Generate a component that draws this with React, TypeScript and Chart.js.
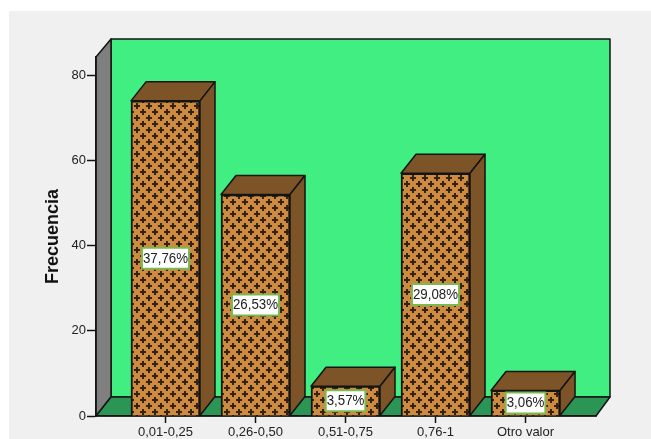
import React, { useEffect, useRef } from "react";
import { Chart, registerables } from "chart.js";

Chart.register(...registerables);

const categories = ["0,01-0,25", "0,26-0,50", "0,51-0,75", "0,76-1", "Otro valor"];
const frequencies = [74, 52, 7, 57, 6];
const percentLabels = ["37,76%", "26,53%", "3,57%", "29,08%", "3,06%"];
const yTicks = [0, 20, 40, 60, 80];

const FONT = '"Liberation Sans", Arial, sans-serif';
const DEPTH_X = 15;
const DEPTH_Y = 19;
const INK = "#141414";

// Two staggered dark crosses on the orange front-face tile.
function crossPattern(ctx: CanvasRenderingContext2D) {
  const tile = document.createElement("canvas");
  tile.width = 12;
  tile.height = 12;
  const t = tile.getContext("2d")!;
  t.fillStyle = "#CE8A3E";
  t.fillRect(0, 0, 12, 12);
  t.fillStyle = "#33220F";
  for (const [cx, cy] of [[5, 10], [11, 4]]) {
    for (const dx of [-12, 0, 12]) {
      for (const dy of [-12, 0, 12]) {
        t.fillRect(cx + dx - 3, cy + dy - 1, 6, 2);
        t.fillRect(cx + dx - 1, cy + dy - 3, 2, 6);
      }
    }
  }
  return ctx.createPattern(tile, "repeat")!;
}

function poly(ctx: CanvasRenderingContext2D, pts: number[][], fill: string, lw = 1.5) {
  ctx.beginPath();
  pts.forEach(([x, y], i) => (i ? ctx.lineTo(x, y) : ctx.moveTo(x, y)));
  ctx.closePath();
  ctx.fillStyle = fill;
  ctx.fill();
  ctx.lineWidth = lw;
  ctx.strokeStyle = INK;
  ctx.lineJoin = "round";
  ctx.stroke();
}

// Page panel plus the back wall, side wall and floor of the 3D box.
const boxPlugin = {
  id: "box3d",
  beforeDraw(chart: any) {
    const { ctx, chartArea: a, width, height } = chart;
    ctx.save();
    ctx.fillStyle = "#FFFFFF";
    ctx.fillRect(0, 0, width, height);
    ctx.fillStyle = "#F0F0F0";
    ctx.fillRect(9, 11, width - 9, height - 11);
    const l = a.left, r = a.right, t = a.top, b = a.bottom;
    poly(ctx, [[l + DEPTH_X, t - 18], [r + DEPTH_X - 1, t - 18], [r + DEPTH_X - 1, b - DEPTH_Y], [l + DEPTH_X, b - DEPTH_Y]], "#40EE82");
    poly(ctx, [[l, t], [l + DEPTH_X, t - 18], [l + DEPTH_X, b - DEPTH_Y], [l, b]], "#7F7F7F");
    poly(ctx, [[l, b], [l + DEPTH_X, b - DEPTH_Y], [r + DEPTH_X - 1, b - DEPTH_Y], [r, b]], "#2B9556");
    ctx.restore();
  },
};

// Top and side faces of each bar, then its percentage tag.
const barFacesPlugin = {
  id: "barFaces",
  afterDatasetsDraw(chart: any) {
    const { ctx } = chart;
    const bars = chart.getDatasetMeta(0).data;
    ctx.save();
    bars.forEach((bar: any, i: number) => {
      const half = bar.width / 2;
      const x0 = bar.x - half, x1 = bar.x + half, top = bar.y, base = bar.base;
      poly(ctx, [[x0, top], [x0 + DEPTH_X, top - DEPTH_Y], [x1 + DEPTH_X, top - DEPTH_Y], [x1, top]], "#7C5428");
      poly(ctx, [[x1, top], [x1 + DEPTH_X, top - DEPTH_Y], [x1 + DEPTH_X, base - DEPTH_Y], [x1, base]], "#7C5428");

      const midY = (top + base) / 2;
      ctx.font = `14px ${FONT}`;
      const textW = ctx.measureText(percentLabels[i]).width;
      const w = textW * 0.95 + 2;
      ctx.fillStyle = "#FFFFFF";
      ctx.strokeStyle = "#7DB84F";
      ctx.lineWidth = 2;
      ctx.fillRect(bar.x - w / 2, midY - 10.5, w, 21);
      ctx.strokeRect(bar.x - w / 2, midY - 10.5, w, 21);
      ctx.fillStyle = "#222222";
      ctx.textAlign = "center";
      ctx.textBaseline = "middle";
      // Slightly condensed so the taller glyphs still fit the tag.
      ctx.fillText(percentLabels[i], bar.x, midY + 0.5, textW * 0.95);
    });
    ctx.restore();
  },
};

export default function App() {
  const ref = useRef<HTMLCanvasElement>(null);

  useEffect(() => {
    const ctx = ref.current!.getContext("2d")!;
    const chart = new Chart(ctx, {
      type: "bar",
      data: {
        datasets: [
          {
            data: frequencies.map((y, x) => ({ x, y })),
            backgroundColor: crossPattern(ctx),
            borderColor: INK,
            borderWidth: 2,
            barThickness: 69,
          },
        ],
      },
      options: {
        animation: false,
        responsive: false,
        events: [],
        layout: { padding: { left: 0, top: 57, right: 55, bottom: 0 } },
        plugins: { legend: { display: false }, tooltip: { enabled: false } },
        scales: {
          x: {
            type: "linear",
            offset: false,
            // Side margins of the box sit wider than the category spacing.
            min: -0.772,
            max: 4.783,
            afterBuildTicks: (s: any) => {
              s.ticks = categories.map((_, value) => ({ value }));
            },
            afterFit: (s: any) => {
              s.height = 23;
            },
            grid: { display: true, offset: false, drawOnChartArea: false, tickLength: 7, tickColor: INK, tickWidth: 1.5 },
            border: { display: true, color: INK, width: 1.5 },
            ticks: {
              autoSkip: false,
              maxRotation: 0,
              padding: 2,
              color: "#222222",
              font: { family: FONT, size: 13 },
              callback: (v: any) => categories[v as number],
            },
          },
          y: {
            min: 0,
            max: 84.3,
            afterBuildTicks: (s: any) => {
              s.ticks = yTicks.map((value) => ({ value }));
            },
            afterFit: (s: any) => {
              s.width = 96;
            },
            grid: { display: true, drawOnChartArea: false, tickLength: 9, tickColor: INK, tickWidth: 1.5 },
            border: { display: true, color: INK, width: 1.5 },
            ticks: { padding: 1, color: "#222222", font: { family: FONT, size: 13 } },
            title: {
              display: true,
              text: "Frecuencia",
              color: "#111111",
              font: { family: FONT, size: 18, weight: "bold" },
              padding: { top: 42, bottom: 0 },
            },
          },
        },
      },
      plugins: [boxPlugin, barFacesPlugin],
    } as any);
    return () => chart.destroy();
  }, []);

  return (
    <canvas
      ref={ref}
      width={651}
      height={439}
      style={{ position: "fixed", left: 0, top: 0, width: 651, height: 439, display: "block" }}
    />
  );
}
